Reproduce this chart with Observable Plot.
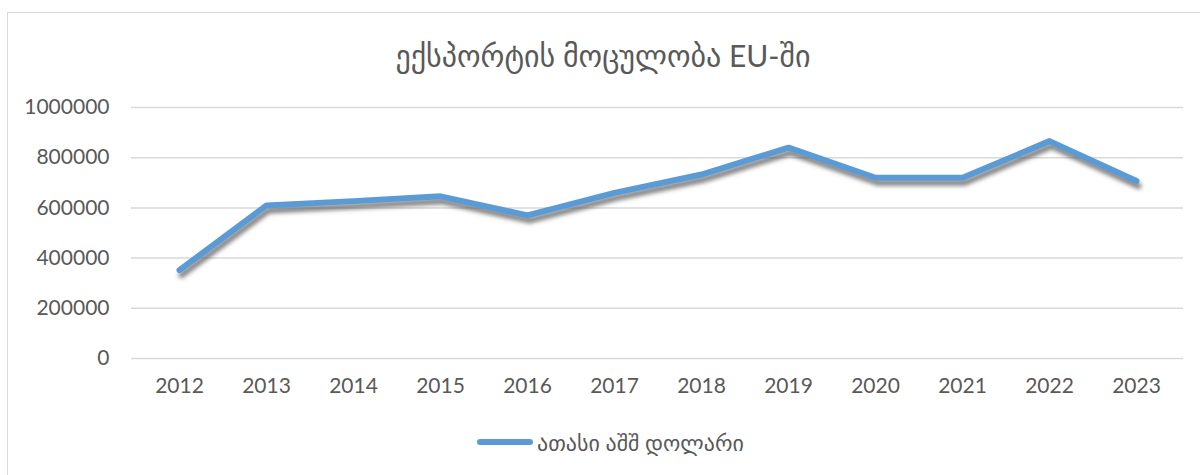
<!DOCTYPE html>
<html>
<head>
<meta charset="utf-8">
<script src="https://cdn.jsdelivr.net/npm/d3@7"></script>
<script src="https://cdn.jsdelivr.net/npm/@observablehq/plot@0.6"></script>
<style>
  html, body { margin: 0; padding: 0; background: #fff; }
  #wrap { position: relative; width: 1200px; height: 475px; overflow: hidden; background: #fff; }
  #frame { position: absolute; left: 7px; top: 12px; width: 1300px; height: 600px; border: 1.5px solid #d9d9d9; box-sizing: border-box; }
  #title { position: absolute; left: 0; width: 1206px; top: 37px; text-align: center; font-family: Lato, "DejaVu Sans", sans-serif; font-size: 30px; color: #595959; }
  #legend { position: absolute; left: 477px; top: 428px; height: 28px; display: flex; align-items: center; font-family: Lato, "DejaVu Sans", sans-serif; font-size: 22px; color: #595959; }
  #legend .sw { width: 56px; height: 6px; background: #5b9bd5; border-radius: 3px; margin-right: 4px; }
  #chart { position: absolute; left: 0; top: 0; }
</style>
</head>
<body>
<div id="wrap">
  <div id="frame"></div>
  <div id="chart"></div>
  <div id="title">ექსპორტის მოცულობა EU-ში</div>
  <div id="legend"><span class="sw"></span><span>ათასი აშშ დოლარი</span></div>
</div>
<script>
const years = ["2012","2013","2014","2015","2016","2017","2018","2019","2020","2021","2022","2023"];
const values = [352000, 610000, 627000, 646000, 570000, 660000, 733000, 840000, 720000, 720000, 866000, 707000];
const yTicks = [0, 200000, 400000, 600000, 800000, 1000000];
const seriesName = "ათასი აშშ დოლარი";

const data = years.map((y, i) => ({year: y, value: values[i], series: seriesName}));

const chart = Plot.plot({
  width: 1200,
  height: 475,
  marginTop: 107,
  marginBottom: 117,
  marginLeft: 131,
  marginRight: 17,
  style: {fontFamily: "Lato, 'DejaVu Sans', sans-serif", fontSize: "21px", color: "#595959", background: "transparent", overflow: "visible"},
  x: {type: "point", domain: years, padding: 0.5, label: null, tickSize: 0, tickPadding: 20},
  y: {domain: [0, 1000000], ticks: yTicks, tickFormat: d => String(d), label: null, tickSize: 0, tickPadding: 22},
  marks: [
    Plot.ruleY(yTicks, {stroke: "#d9d9d9", strokeWidth: 1.5, strokeOpacity: 1}),
    Plot.lineY(data, {x: "year", y: "value", stroke: "#555555", strokeWidth: 6, strokeOpacity: 0.75, dx: 2, dy: 5, strokeLinejoin: "round", strokeLinecap: "round", className: "shadow"}),
    Plot.lineY(data, {x: "year", y: "value", stroke: "#5b9bd5", strokeWidth: 6, strokeLinejoin: "round", strokeLinecap: "round"})
  ]
});

const svg = d3.select(chart);
const defs = svg.insert("defs", ":first-child");
defs.append("filter").attr("id", "blur").attr("x", "-10%").attr("y", "-50%").attr("width", "120%").attr("height", "200%")
  .append("feGaussianBlur").attr("stdDeviation", 2.2);
svg.selectAll("g.shadow").attr("filter", "url(#blur)");

document.getElementById("chart").appendChild(chart);
</script>
</body>
</html>
